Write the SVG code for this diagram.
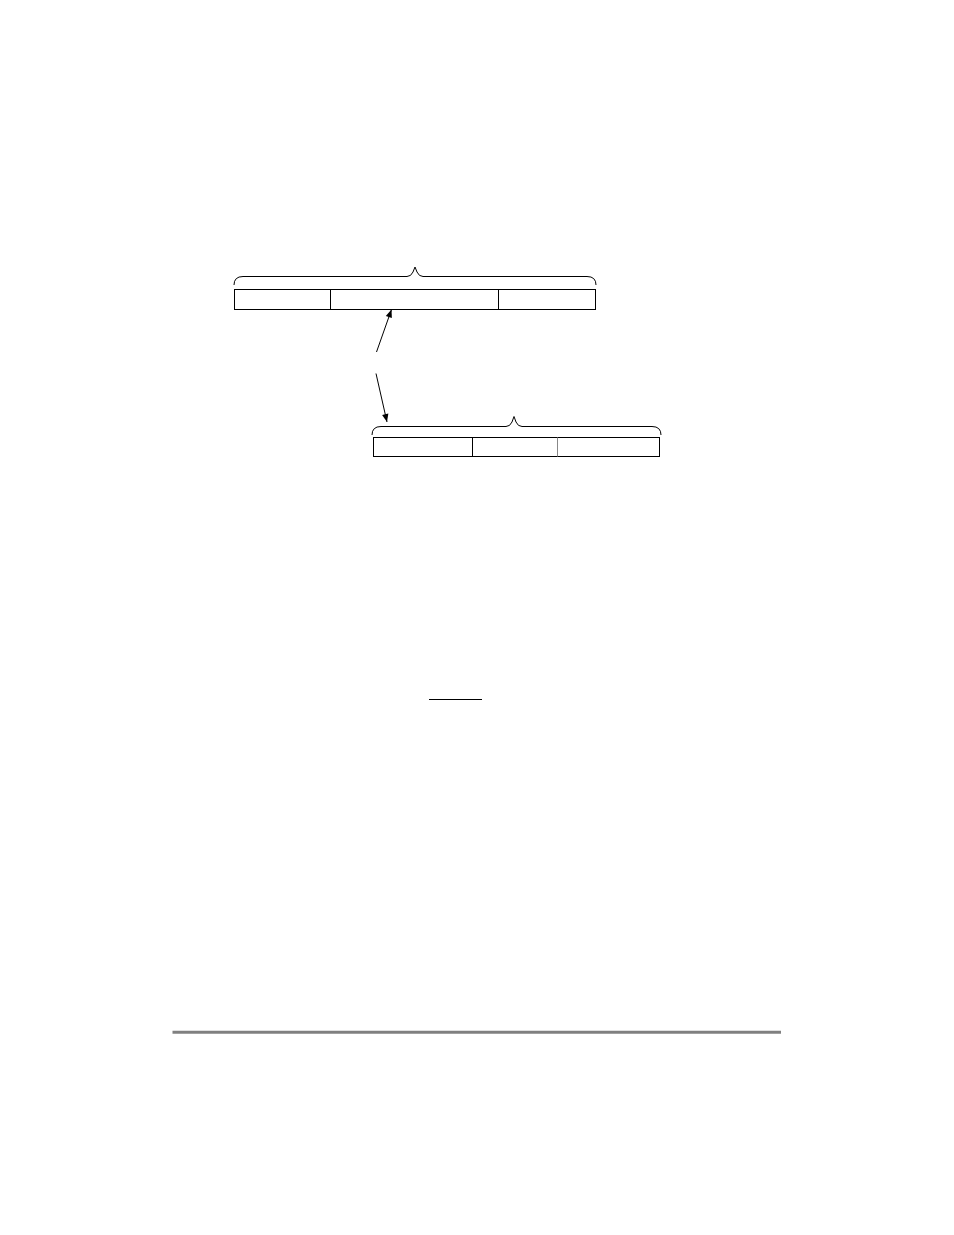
<svg xmlns="http://www.w3.org/2000/svg" width="954" height="1235" viewBox="0 0 954 1235">
<defs>
<marker id="ah" viewBox="0 0 10 10" refX="10" refY="5" markerWidth="10" markerHeight="8" markerUnits="userSpaceOnUse" orient="auto">
<path d="M0,1 L10,5 L0,9 Z" fill="#000"/>
</marker>
</defs>
<style>
.box{fill:#fff;stroke:#000;stroke-width:1}
.br{fill:none;stroke:#000;stroke-width:1}
.cn{fill:none;stroke:#000;stroke-width:1}
</style>
<rect width="954" height="1235" fill="#fff"/>
<g id="top-record">
<path class="br" d="M234,285 Q234,276.5 243,276.5 L407,276.5 Q411,276.5 413,272 L415,267 L417,272 Q419,276.5 423,276.5 L587,276.5 Q596,276.5 596,285"/>
<rect class="box" x="234.5" y="289.5" width="361" height="20"/>
<line class="box" x1="330.5" y1="289.5" x2="330.5" y2="309.5"/>
<line class="box" x1="498.5" y1="289.5" x2="498.5" y2="309.5"/>
</g>
<g id="bottom-record">
<path class="br" d="M372,435 Q372,426.5 381,426.5 L506,426.5 Q510,426.5 512,422 L514,416.5 L516,422 Q518,426.5 522,426.5 L652,426.5 Q661,426.5 661,435"/>
<rect class="box" x="373.5" y="437.5" width="286" height="19"/>
<line class="box" x1="472.5" y1="437.5" x2="472.5" y2="456.5"/>
<line x1="557.5" y1="437.5" x2="557.5" y2="456.5" stroke="#888" stroke-width="1"/>
</g>
<g id="connectors">
<line class="cn" x1="376.5" y1="352" x2="391.5" y2="309.5" marker-end="url(#ah)"/>
<line class="cn" x1="376" y1="373.5" x2="387" y2="422" marker-end="url(#ah)"/>
</g>
<g id="underline">
<line x1="429" y1="699.5" x2="482" y2="699.5" stroke="#000" stroke-width="1"/>
</g>
<g id="footer-rule">
<line x1="172.5" y1="1032.3" x2="781" y2="1032.3" stroke="#808080" stroke-width="3"/>
</g>
</svg>
